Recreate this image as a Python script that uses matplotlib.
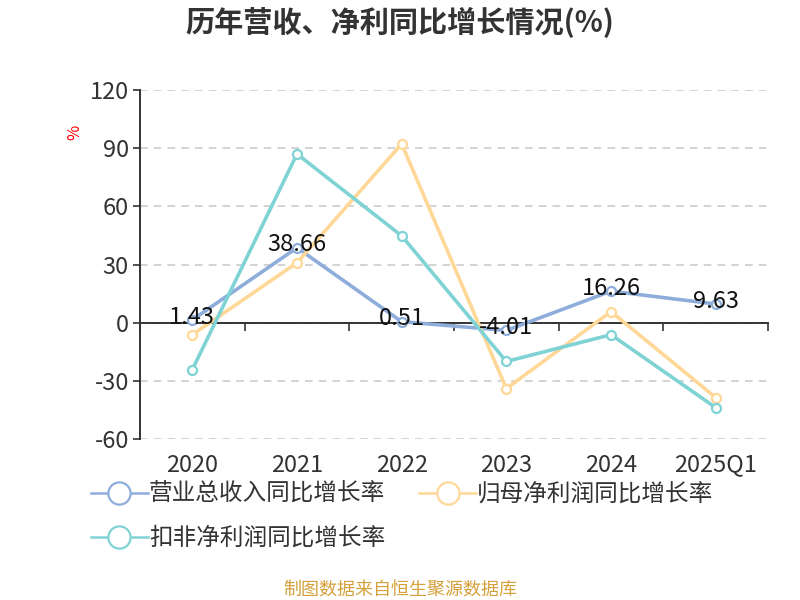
import matplotlib
matplotlib.use("Agg")
import matplotlib.pyplot as plt
from matplotlib.lines import Line2D
import matplotlib.transforms as mtransforms

plt.rcParams['font.family'] = ['Noto Sans CJK SC', 'DejaVu Sans']

categories = ['2020', '2021', '2022', '2023', '2024', '2025Q1']
revenue = [1.43, 38.66, 0.51, -4.01, 16.26, 9.63]
net_profit = [-6.2, 30.9, 92.2, -34.0, 5.7, -38.6]
deducted_profit = [-24.2, 87.0, 44.8, -20.0, -6.2, -43.8]
series_names = ['营业总收入同比增长率', '归母净利润同比增长率', '扣非净利润同比增长率']
colors = ['#8EADDB', '#FFD897', '#80D3D5']
yticks = [-60, -30, 0, 30, 60, 90, 120]

fig = plt.figure(figsize=(8, 6), dpi=100)
ax = fig.add_axes([0.175, 0.2683, 0.785, 0.5817])

x = list(range(len(categories)))
for vals, c in zip([revenue, net_profit, deducted_profit], colors):
    ax.plot(x, vals, color=c, lw=2.6, marker='o', ms=6.5, mfc='white', mec=c, mew=1.6, zorder=3)

for xi, v in zip(x, revenue):
    ax.annotate(f'{v:.2f}', (xi, v), xytext=(0, 2), textcoords='offset points',
                ha='center', va='center', fontsize=17, color='#111111', zorder=5)

ax.set_xlim(-0.5, len(categories) - 0.5)
ax.set_ylim(-60, 120)
ax.set_yticks(yticks)
ax.set_yticklabels([str(t) for t in yticks], fontsize=17, color='#333333')
ax.tick_params(axis='y', direction='out', length=5, width=1.2, color='#333333', pad=3)
ax.grid(axis='y', linestyle=(0, (5, 4)), color='#c8c8c8', lw=1.1)
ax.set_axisbelow(True)

for s in ['top', 'right']:
    ax.spines[s].set_visible(False)
ax.spines['left'].set_color('#333333')
ax.spines['left'].set_linewidth(1.4)
ax.spines['bottom'].set_position(('data', 0))
ax.spines['bottom'].set_color('#333333')
ax.spines['bottom'].set_linewidth(1.4)
ax.set_xticks([i - 0.5 for i in range(len(categories) + 1)])
ax.set_xticklabels([])
ax.tick_params(axis='x', direction='out', length=6, width=1.2, color='#333333')

trans = mtransforms.blended_transform_factory(ax.transData, ax.transAxes)
for xi, lab in zip(x, categories):
    ax.text(xi, -0.075, lab, transform=trans, ha='center', va='center',
            fontsize=17, color='#333333')

fig.text(0.094, 0.78, '%', color='red', fontsize=12, rotation=90, ha='center', va='center')
fig.text(0.5, 0.962, '历年营收、净利同比增长情况(%)', ha='center', va='center',
         fontsize=21, fontweight='bold', color='#333333')

handles = [Line2D([0], [0], color=c, lw=1.8, marker='o', ms=16, mfc='white', mec=c, mew=1.6)
           for c in colors]
order = [0, 2, 1]
leg = fig.legend([handles[i] for i in order], [series_names[i] for i in order],
                 loc='upper left', bbox_to_anchor=(0.102, 0.211),
                 ncol=2, frameon=False, fontsize=17, handlelength=2.4, handletextpad=0.05,
                 columnspacing=1.45, labelspacing=0.9, borderaxespad=0)
for t in leg.get_texts():
    t.set_color('#333333')

fig.text(0.5, 0.018, '制图数据来自恒生聚源数据库', ha='center', va='center',
         fontsize=13, color='#D4A03A')

fig.savefig('out.png', dpi=100)
